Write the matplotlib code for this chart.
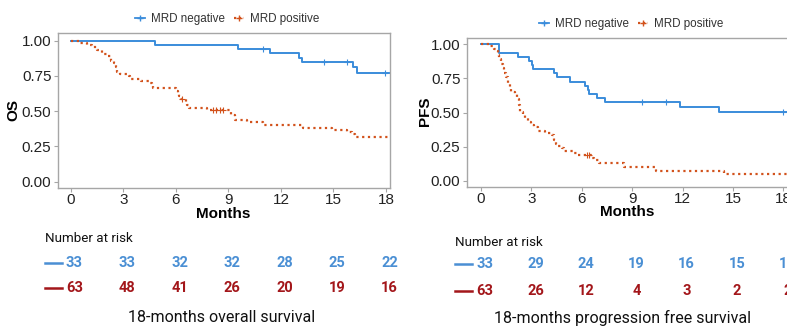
import matplotlib.pyplot as plt
from matplotlib.lines import Line2D
from matplotlib.transforms import blended_transform_factory
import numpy as np

plt.rcParams['font.family'] = ['Liberation Sans', 'DejaVu Sans']

BLUE = '#3a8cdb'
RED = '#d2521c'
TAB_BLUE = '#4a8fd4'
TAB_RED = '#a3161a'
FRAME = '#a6a6a6'

# 18-month overall survival (step times in months, survival after the step)
os_neg_t = [0, 4.8, 9.55, 11.4, 13.03, 13.18, 16.1, 16.36, 18.3]
os_neg_s = [1.0, 0.970, 0.939, 0.909, 0.877, 0.845, 0.810, 0.774, 0.774]
os_neg_cens = [11.0, 14.46, 15.75, 17.95]

os_pos_t = [0, 0.5, 0.9, 1.2, 1.5, 1.75, 2.1, 2.3, 2.45, 2.55, 2.65, 2.8, 3.3,
            3.4, 4.0, 4.5, 4.65, 4.7, 6.0, 6.1, 6.2, 6.3, 6.55, 6.65, 6.75,
            7.8, 9.15, 9.4, 10.05, 10.95, 13.25, 14.9, 15.8, 16.05, 16.25, 18.3]
os_pos_s = [1.0, 0.984, 0.968, 0.952, 0.937, 0.905, 0.889, 0.857, 0.840, 0.810,
            0.780, 0.762, 0.746, 0.730, 0.714, 0.698, 0.680, 0.665, 0.645,
            0.625, 0.605, 0.585, 0.565, 0.545, 0.525, 0.505, 0.470, 0.440,
            0.420, 0.400, 0.383, 0.366, 0.352, 0.336, 0.318, 0.318]
os_pos_cens = [6.32, 8.1, 8.3, 8.5, 8.7]

# 18-month progression free survival
pfs_neg_t = [0, 1.07, 2.2, 2.85, 3.05, 3.12, 4.35, 4.5, 5.3, 6.2, 6.4, 6.45,
             6.9, 7.4, 11.85, 14.2, 18.6]
pfs_neg_s = [1.0, 0.939, 0.909, 0.879, 0.848, 0.818, 0.788, 0.758, 0.727,
             0.697, 0.667, 0.636, 0.606, 0.576, 0.540, 0.505, 0.505]
pfs_neg_cens = [9.6, 11.0, 18.0]

pfs_pos_t = [0, 0.55, 0.75, 0.9, 1.0, 1.1, 1.2, 1.3, 1.4, 1.5, 1.6, 1.7, 1.8,
             2.0, 2.15, 2.25, 2.35, 2.5, 2.65, 2.8, 3.0, 3.15, 3.4, 3.8, 4.2,
             4.35, 4.45, 4.6, 4.85, 4.95, 5.5, 5.8, 6.6, 6.75, 7.0, 8.5,
             10.45, 14.45, 18.6]
pfs_pos_s = [1.0, 0.984, 0.968, 0.952, 0.920, 0.889, 0.857, 0.825, 0.790,
             0.760, 0.714, 0.683, 0.650, 0.635, 0.603, 0.556, 0.508, 0.490,
             0.460, 0.430, 0.413, 0.397, 0.365, 0.350, 0.333, 0.300, 0.270,
             0.254, 0.238, 0.222, 0.206, 0.190, 0.170, 0.150, 0.130, 0.100,
             0.072, 0.048, 0.048]
pfs_pos_cens = [6.3, 6.45]

risk_times = [0, 3, 6, 9, 12, 15, 18]
os_risk_neg = [33, 33, 32, 32, 28, 25, 22]
os_risk_pos = [63, 48, 41, 26, 20, 19, 16]
pfs_risk_neg = [33, 29, 24, 19, 16, 15, 15]
pfs_risk_pos = [63, 26, 12, 4, 3, 2, 2]

labels = ['MRD negative', 'MRD positive']


def surv_at(t, s, x):
    idx = np.searchsorted(t, x, side='right') - 1
    return np.asarray(s)[idx]


def km_panel(ax, neg, pos, ylabel, xlim, ylim, leg_xy, ylab_x, xlab_y):
    (nt, ns, nc), (pt, ps, pc) = neg, pos
    ax.step(nt, ns, where='post', color=BLUE, lw=1.4)
    ax.plot(nc, surv_at(nt, ns, nc), '+', color=BLUE, ms=4, mew=0.8)
    ax.step(pt, ps, where='post', color=RED, lw=1.6, ls=(0, (1, 1.6)))
    ax.plot(pc, surv_at(pt, ps, pc), '+', color=RED, ms=4, mew=0.8)

    ax.set_xlim(*xlim)
    ax.set_ylim(*ylim)
    ax.set_xticks(risk_times)
    ax.set_yticks([0, 0.25, 0.5, 0.75, 1.0])
    ax.set_yticklabels(['0.00', '0.25', '0.50', '0.75', '1.00'])
    ax.tick_params(labelsize=11, length=3, width=0.8, color=FRAME,
                   labelcolor='#222222', pad=1.5)
    ax.tick_params(axis='x', pad=0.5)
    for sp in ax.spines.values():
        sp.set_color(FRAME)
        sp.set_linewidth(1.0)

    ax.set_xlabel('Months', fontsize=11, fontweight='bold')
    ax.xaxis.set_label_coords(0.497, xlab_y)
    ax.set_ylabel(ylabel, fontsize=11, fontweight='bold')
    ax.yaxis.set_label_coords(ylab_x, 0.505)

    handles = [Line2D([], [], color=BLUE, lw=1.3, marker='+', ms=4),
               Line2D([], [], color=RED, lw=1.6, ls=(0, (1, 1.2)),
                      marker='+', ms=4)]
    ax.legend(handles, labels, loc='center', bbox_to_anchor=leg_xy,
              bbox_transform=fig.transFigure, ncol=2, frameon=False,
              fontsize=8.4, handlelength=0.9, handletextpad=0.45,
              columnspacing=0.8, labelcolor='#333333')


def risk_table(ax, neg, pos, title_y, rows_y, head_x, dx):
    tr = blended_transform_factory(ax.transData, fig.transFigure)
    fig.text(head_x, title_y, 'Number at risk', family='Roboto',
             fontsize=9.6, ha='left', va='center', color='#111111')
    for vals, yy, col in [(neg, rows_y[0], TAB_BLUE), (pos, rows_y[1], TAB_RED)]:
        fig.add_artist(Line2D([head_x, head_x + 0.022], [yy, yy], color=col,
                              lw=1.8))
        for t, v in zip(risk_times, vals):
            ax.text(t + dx, yy, str(v), transform=tr, family='Roboto',
                    fontweight='bold', fontsize=10.5, color=col,
                    ha='center', va='center', clip_on=False)


fig = plt.figure(figsize=(7.87, 3.27), dpi=100)
ax1 = fig.add_axes([57.7 / 787, 1 - 188.3 / 327, 332.3 / 787, 155 / 327])
ax2 = fig.add_axes([466.7 / 787, 1 - 186.7 / 327, 323.3 / 787, 149 / 327])

km_panel(ax1, (os_neg_t, os_neg_s, os_neg_cens),
         (os_pos_t, os_pos_s, os_pos_cens), 'OS',
         (-0.76, 18.23), (-0.047, 1.052), (227 / 787, 1 - 19 / 327),
         -0.113, -0.119)
km_panel(ax2, (pfs_neg_t, pfs_neg_s, pfs_neg_cens),
         (pfs_pos_t, pfs_pos_s, pfs_pos_cens), 'PFS',
         (-0.85, 18.4), (-0.042, 1.048), (631 / 787, 1 - 24.3 / 327),
         -0.107, -0.126)

risk_table(ax1, os_risk_neg, os_risk_pos, 1 - 239 / 327,
           (1 - 262.7 / 327, 1 - 287.7 / 327), 45 / 787, 0.2)
risk_table(ax2, pfs_risk_neg, pfs_risk_pos, 1 - 243 / 327,
           (1 - 264.3 / 327, 1 - 291 / 327), 455 / 787, 0.25)

fig.text(222 / 787, 1 - 318 / 327, '18-months overall survival',
         family='Roboto', fontsize=11.5, ha='center', va='center',
         color='#111111')
fig.text(623 / 787, 1 - 318 / 327, '18-months progression free survival',
         family='Roboto', fontsize=11.5, ha='center', va='center',
         color='#111111')

fig.savefig('out.png', dpi=100)
